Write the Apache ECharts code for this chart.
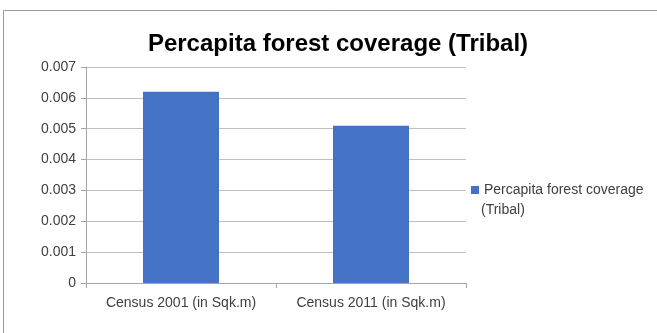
<!DOCTYPE html>
<html>
<head>
<meta charset="utf-8">
<script src="https://cdn.jsdelivr.net/npm/echarts@6/dist/echarts.min.js"></script>
<style>
	* { margin: 0; padding: 0; }
	html, body { background: #fff; }
	#chart { width: 657px; height: 333px; }
</style>
</head>
<body>
<div id="chart"></div>
<script>
	// data
	var categories = ['Census 2001 (in Sqk.m)', 'Census 2011 (in Sqk.m)'];
	var coverage = [0.0062, 0.0051];
	var seriesName = 'Percapita forest coverage (Tribal)';

	var chart = echarts.init(document.getElementById('chart'));
	chart.setOption({
		animation: false,
		textStyle: { fontFamily: 'Liberation Sans' },
		title: {
			text: 'Percapita forest coverage (Tribal)',
			left: 333,
			textAlign: 'center',
			top: 27,
			textStyle: { fontSize: 24, fontWeight: 'bold', color: '#000' }
		},
		graphic: [{
			type: 'rect',
			shape: { x: 3.5, y: 10.5, width: 700, height: 400 },
			style: { fill: 'none', stroke: '#9a9a9a', lineWidth: 1 },
			silent: true
		}, {
			// second line of the legend label
			type: 'text',
			left: 481,
			top: 203,
			style: { text: '(Tribal)', fontSize: 14, fill: '#404040', fontFamily: 'Liberation Sans' },
			silent: true
		}],
		legend: {
			left: 466,
			top: 178,
			orient: 'vertical',
			icon: 'rect',
			itemWidth: 8,
			itemHeight: 8,
			data: [seriesName],
			formatter: function() {
				return 'Percapita forest coverage';
			},
			textStyle: { fontSize: 14, color: '#404040' }
		},
		grid: { left: 86, right: 191, top: 67, bottom: 50 },
		xAxis: {
			type: 'category',
			data: categories,
			axisLine: { lineStyle: { color: '#a6a6a6' } },
			axisTick: { show: true, length: 5, lineStyle: { color: '#a6a6a6' } },
			axisLabel: { color: '#404040', fontSize: 14, margin: 13, interval: 0 }
		},
		yAxis: {
			type: 'value',
			min: 0,
			max: 0.007,
			interval: 0.001,
			axisLine: { show: true, lineStyle: { color: '#a6a6a6' } },
			axisTick: { show: true, length: 5, lineStyle: { color: '#a6a6a6' } },
			splitLine: { lineStyle: { color: '#bfbfbf' } },
			axisLabel: {
				color: '#404040',
				fontSize: 14,
				margin: 10,
				formatter: function(v) {
					return v === 0 ? '0' : v.toFixed(3);
				}
			}
		},
		series: [{
			name: seriesName,
			type: 'bar',
			data: coverage,
			barWidth: '40%',
			itemStyle: { color: '#4472C4' }
		}]
	});
</script>
</body>
</html>
